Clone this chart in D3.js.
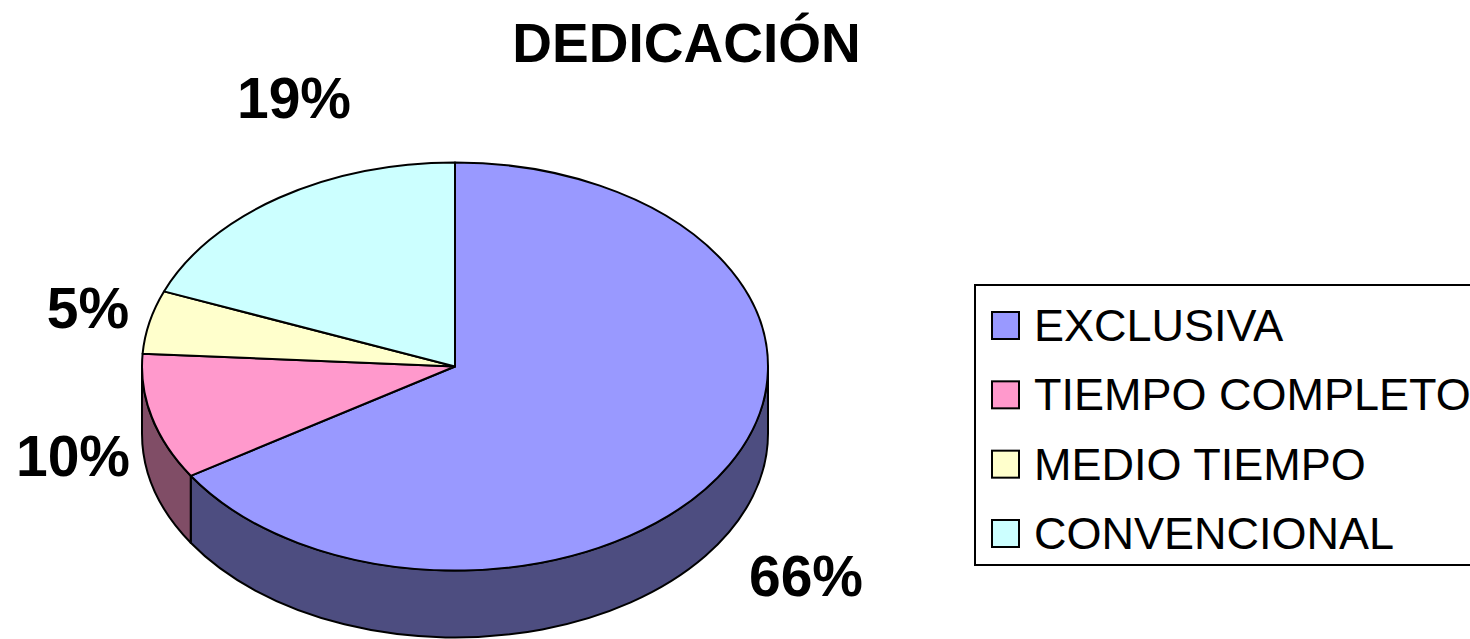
<!DOCTYPE html>
<html><head><meta charset="utf-8">
<script src="https://cdn.jsdelivr.net/npm/d3@7"></script>
<style>body{margin:0;background:#fff;overflow:hidden} svg{display:block;font-family:"Liberation Sans",Arial,sans-serif}</style>
</head><body><svg id="c" width="1470" height="639"></svg>
<script>
// ---- data ----
const categories = ["EXCLUSIVA", "TIEMPO COMPLETO", "MEDIO TIEMPO", "CONVENCIONAL"];
const values = [66, 10, 5, 19];
const labelTexts = ["66%", "10%", "5%", "19%"];
const colors = ["#9999FF", "#FF99CC", "#FFFFCC", "#CCFFFF"];
const title = "DEDICACIÓN";

// ---- layout ----
const svg = d3.select("#c");
const cx = 455, cy = 366.5, rx = 313, ry = 204, depth = 67;
const labelPos = [[806, 596], [73, 476], [88, 328], [294, 118]];

const arcs = d3.pie().sort(null).value(d => d)(values);
function pt(a, dy = 0) { return [cx + rx * Math.sin(a), cy - ry * Math.cos(a) + dy]; }
function darken(c) { const r = d3.rgb(c); return d3.rgb(r.r * 0.5, r.g * 0.5, r.b * 0.5).toString(); }

// sides
const gSide = svg.append("g");
arcs.forEach((d, i) => {
  const s = Math.max(d.startAngle, Math.PI / 2), e = Math.min(d.endAngle, 3 * Math.PI / 2);
  if (e <= s) return;
  const p0 = pt(s), p1 = pt(e), p2 = pt(e, depth), p3 = pt(s, depth);
  const path = `M${p0}A${rx},${ry} 0 0 1 ${p1}L${p2}A${rx},${ry} 0 0 0 ${p3}Z`;
  gSide.append("path").attr("d", path).attr("fill", darken(colors[i]))
    .attr("stroke", "#000").attr("stroke-width", 2).attr("stroke-linejoin", "round");
});

// tops
const gTop = svg.append("g");
arcs.forEach((d, i) => {
  const p0 = pt(d.startAngle), p1 = pt(d.endAngle);
  const large = (d.endAngle - d.startAngle) > Math.PI ? 1 : 0;
  const path = `M${cx},${cy}L${p0}A${rx},${ry} 0 ${large} 1 ${p1}Z`;
  gTop.append("path").attr("d", path).attr("fill", colors[i])
    .attr("stroke", "#000").attr("stroke-width", 2).attr("stroke-linejoin", "round");
});

// labels
svg.append("g").selectAll("text").data(labelTexts).join("text")
  .attr("x", (d, i) => labelPos[i][0]).attr("y", (d, i) => labelPos[i][1])
  .attr("text-anchor", "middle").attr("font-size", 57).attr("font-weight", "bold")
  .text(d => d);

// title
svg.append("text").attr("x", 686.5).attr("y", 62).attr("text-anchor", "middle")
  .attr("font-size", 55).attr("font-weight", "bold").text(title);

// legend
svg.append("rect").attr("x", 975).attr("y", 285).attr("width", 540).attr("height", 280)
  .attr("fill", "#fff").attr("stroke", "#000").attr("stroke-width", 2);
const ly = d3.scalePoint().domain(categories).range([341, 549]);
const lg = svg.append("g").selectAll("g").data(categories).join("g")
  .attr("transform", d => `translate(0,${ly(d)})`);
lg.append("rect").attr("x", 992).attr("y", -29).attr("width", 27).attr("height", 27)
  .attr("fill", (d, i) => colors[i]).attr("stroke", "#000").attr("stroke-width", 2);
lg.append("text").attr("x", 1034).attr("y", 0).attr("font-size", 45).text(d => d);
</script>
</body></html>
